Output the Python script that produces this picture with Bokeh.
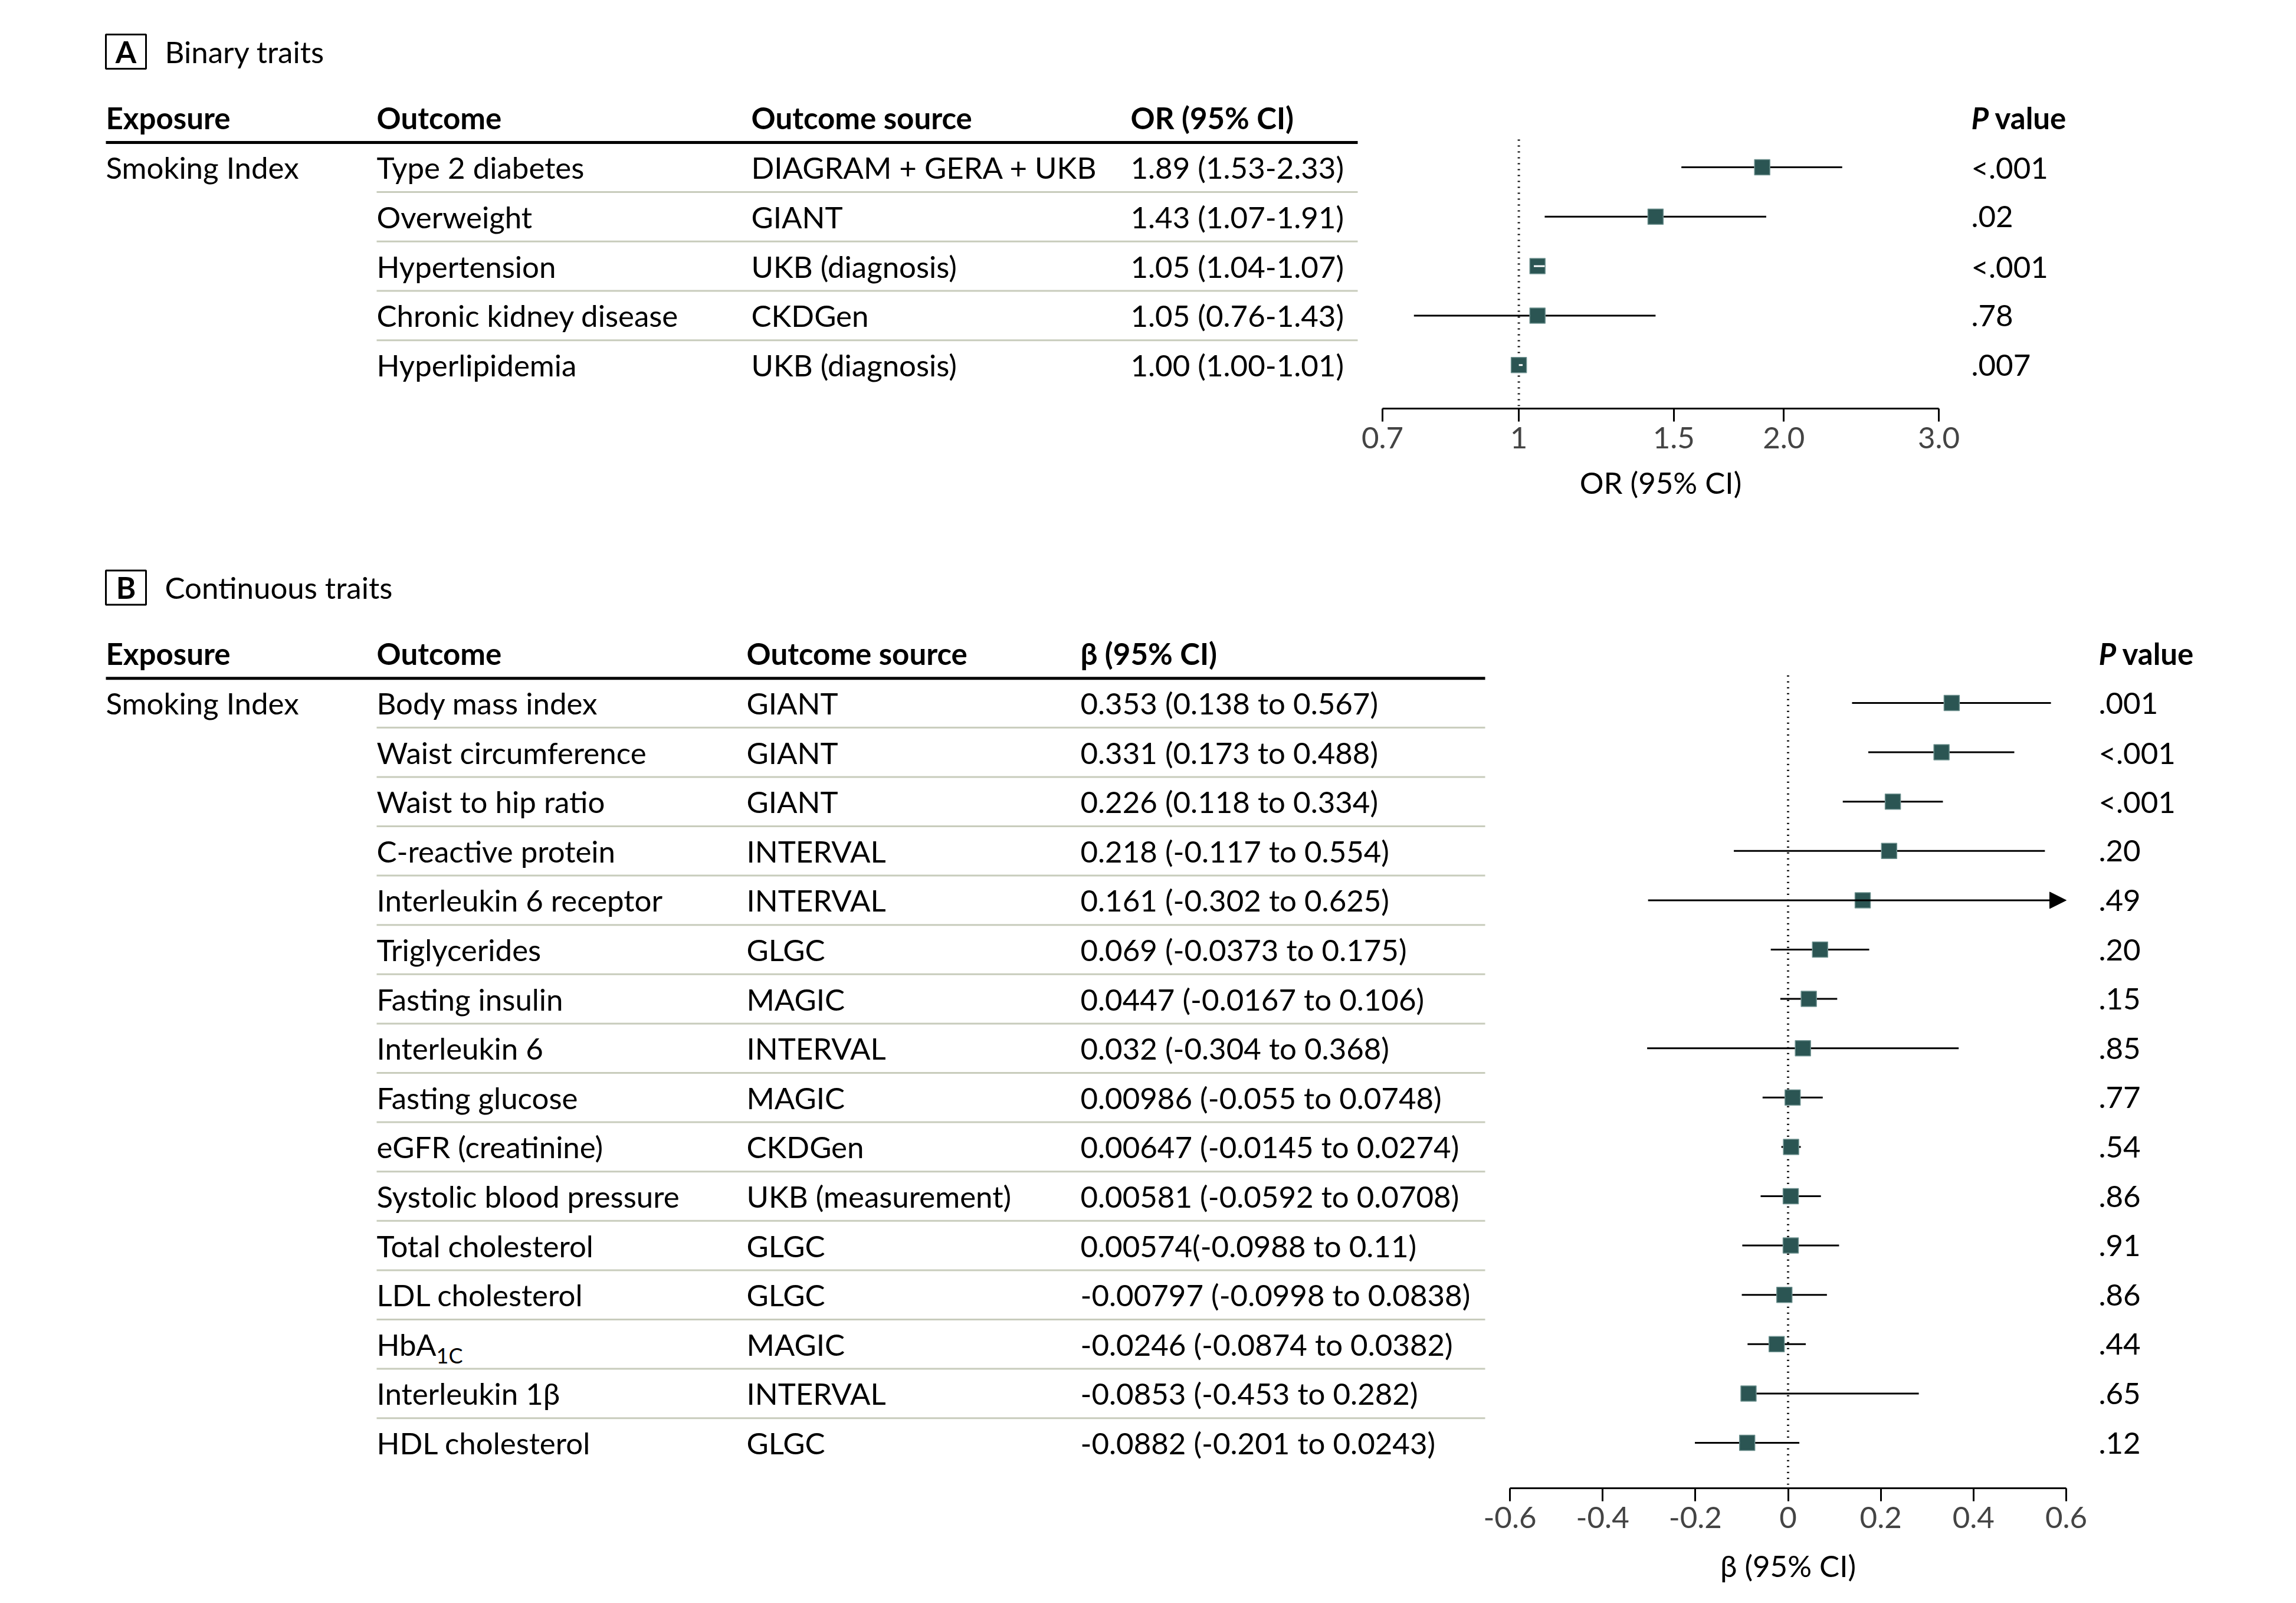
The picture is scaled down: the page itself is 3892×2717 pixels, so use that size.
import math
from bokeh.plotting import figure
from bokeh.models import (Range1d, LogScale, LinearScale, LogAxis, LinearAxis,
                          FixedTicker, CustomJSTickFormatter, ColumnDataSource,
                          Arrow, NormalHead)
from bokeh.layouts import column
from bokeh.embed import file_html
from bokeh.resources import INLINE
from bokeh.core.properties import value

# ---------------- data ----------------
exposure = "Smoking Index"

a_outcomes = ["Type 2 diabetes", "Overweight", "Hypertension",
              "Chronic kidney disease", "Hyperlipidemia"]
a_sources = ["DIAGRAM + GERA + UKB", "GIANT", "UKB (diagnosis)", "CKDGen",
             "UKB (diagnosis)"]
a_est = [1.89, 1.43, 1.05, 1.05, 1.00]
a_lo = [1.53, 1.07, 1.04, 0.76, 1.00]
a_hi = [2.33, 1.91, 1.07, 1.43, 1.01]
a_ci_text = ["1.89 (1.53-2.33)", "1.43 (1.07-1.91)", "1.05 (1.04-1.07)",
             "1.05 (0.76-1.43)", "1.00 (1.00-1.01)"]
a_p = ["<.001", ".02", "<.001", ".78", ".007"]
a_ticks = [0.7, 1.0, 1.5, 2.0, 3.0]
a_tick_labels = ["0.7", "1", "1.5", "2.0", "3.0"]
a_null = 1.0

b_outcomes = ["Body mass index", "Waist circumference", "Waist to hip ratio",
              "C-reactive protein", "Interleukin 6 receptor", "Triglycerides",
              "Fasting insulin", "Interleukin 6", "Fasting glucose",
              "eGFR (creatinine)", "Systolic blood pressure",
              "Total cholesterol", "LDL cholesterol", "HbA", "Interleukin 1β",
              "HDL cholesterol"]
b_sub = {13: "1C"}
b_sources = ["GIANT", "GIANT", "GIANT", "INTERVAL", "INTERVAL", "GLGC", "MAGIC",
             "INTERVAL", "MAGIC", "CKDGen", "UKB (measurement)", "GLGC", "GLGC",
             "MAGIC", "INTERVAL", "GLGC"]
b_est = [0.353, 0.331, 0.226, 0.218, 0.161, 0.069, 0.0447, 0.032, 0.00986,
         0.00647, 0.00581, 0.00574, -0.00797, -0.0246, -0.0853, -0.0882]
# whisker ends as drawn in the figure (Interleukin 1β's drawn whisker starts
# at its marker)
b_lo = [0.138, 0.173, 0.118, -0.117, -0.302, -0.0373, -0.0167, -0.304, -0.055,
        -0.0145, -0.0592, -0.0988, -0.0998, -0.0874, -0.0853, -0.201]
b_hi = [0.567, 0.488, 0.334, 0.554, 0.625, 0.175, 0.106, 0.368, 0.0748,
        0.0274, 0.0708, 0.11, 0.0838, 0.0382, 0.282, 0.0243]
b_ci_text = ["0.353 (0.138 to 0.567)", "0.331 (0.173 to 0.488)",
             "0.226 (0.118 to 0.334)", "0.218 (-0.117 to 0.554)",
             "0.161 (-0.302 to 0.625)", "0.069 (-0.0373 to 0.175)",
             "0.0447 (-0.0167 to 0.106)", "0.032 (-0.304 to 0.368)",
             "0.00986 (-0.055 to 0.0748)", "0.00647 (-0.0145 to 0.0274)",
             "0.00581 (-0.0592 to 0.0708)", "0.00574(-0.0988 to 0.11)",
             "-0.00797 (-0.0998 to 0.0838)", "-0.0246 (-0.0874 to 0.0382)",
             "-0.0853 (-0.453 to 0.282)", "-0.0882 (-0.201 to 0.0243)"]
b_p = [".001", "<.001", "<.001", ".20", ".49", ".20", ".15", ".85", ".77",
       ".54", ".86", ".91", ".86", ".44", ".65", ".12"]
b_ticks = [-0.6, -0.4, -0.2, 0.0, 0.2, 0.4, 0.6]
b_tick_labels = ["-0.6", "-0.4", "-0.2", "0", "0.2", "0.4", "0.6"]
b_null = 0.0

# ---------------- style / layout ----------------
FONT = "Lato"
FS = "51px"
SUB_FS = "36px"
SQ = 26
SQ_FILL = "#2b5553"
SQ_LINE = "#6f9290"
SEP = "#c8ccbc"
W = 3876
BORDER = 96            # room under each forest axis for ticks + tick labels
COL_EXP, COL_OUT = 179, 638


def tick_fmt(vals, labels):
    return CustomJSTickFormatter(args=dict(vals=vals, labels=labels), code="""
        for (let i = 0; i < vals.length; i++) {
            if (Math.abs(vals[i] - tick) < 1e-6) { return labels[i]; }
        }
        return "";
    """)


def txt(p, x, y, t, style="normal", align="left", size=FS, baseline="middle"):
    p.text(x=x, y=y, text=t, text_font=value(FONT), text_font_size=size,
           text_font_style=style, text_align=align, text_baseline=baseline,
           text_color="black")


def base_fig(height, y_range, bottom):
    p = figure(width=W, height=height, output_backend="svg",
               toolbar_location=None, x_axis_type=None, y_axis_type=None,
               x_range=Range1d(0, W), y_range=y_range,
               min_border_left=0, min_border_right=0, min_border_top=0,
               min_border_bottom=bottom, outline_line_color=None)
    p.xgrid.visible = False
    p.ygrid.visible = False
    return p


def panel(letter, title, outcomes, sources, est, lo, hi, ci_text, pvals,
          ci_header, cols, rule_end, p_x, page_top, row0, step, axis_y,
          log, ax_px, ticks, tick_labels, null, dot_end, subs=None):
    n = len(outcomes)
    fh = axis_y - page_top
    p = base_fig(fh + BORDER,
                 Range1d((axis_y - row0) / step, (page_top - row0) / step),
                 BORDER)

    # extra x range for the forest part
    (v0, px0), (v1, px1) = ax_px
    if log:
        f = lambda v: math.log10(v)
        k = (px1 - px0) / (f(v1) - f(v0))
        start = 10 ** (f(v0) - px0 / k)
        end = 10 ** (f(v0) + (W - px0) / k)
        p.extra_x_ranges = {"fx": Range1d(start, end)}
        p.extra_x_scales = {"fx": LogScale()}
        ax = LogAxis(x_range_name="fx")
        width_px = lambda a, b: (f(b) - f(a)) * k
    else:
        k = (px1 - px0) / (v1 - v0)
        start = v0 - px0 / k
        end = v0 + (W - px0) / k
        p.extra_x_ranges = {"fx": Range1d(start, end)}
        p.extra_x_scales = {"fx": LinearScale()}
        ax = LinearAxis(x_range_name="fx")
        width_px = lambda a, b: (b - a) * k

    ax.bounds = (ticks[0], ticks[-1])
    ax.ticker = FixedTicker(ticks=ticks, minor_ticks=[])
    ax.formatter = tick_fmt(ticks, tick_labels)
    ax.axis_line_width = 3
    ax.axis_line_color = "black"
    ax.major_tick_line_width = 3
    ax.major_tick_out = 22
    ax.major_tick_in = 0
    ax.minor_tick_line_color = None
    ax.major_label_text_font = FONT
    ax.major_label_text_font_size = FS
    ax.major_label_standoff = 9
    p.add_layout(ax, "below")

    rows = list(range(n))

    # title with boxed letter
    ty = -2.34
    p.rect(x=[213], y=[ty], width=68, height=58, width_units="screen",
           height_units="screen", fill_color="white", line_color="black",
           line_width=3)
    txt(p, [213], [ty], [letter], style="bold", align="center")
    txt(p, [279], [ty], [title])

    # headers
    hdr = ["Exposure", "Outcome", "Outcome source", ci_header]
    txt(p, cols, [-1] * 4, hdr, style="bold")
    txt(p, [p_x], [-1], ["P"], style="bold italic")
    txt(p, [p_x + 40], [-1], ["value"], style="bold")

    # rules
    p.segment(x0=[COL_EXP], y0=[-0.5], x1=[rule_end], y1=[-0.5],
              line_color="black", line_width=5)
    seps = [i + 0.5 for i in range(n - 1)]
    p.segment(x0=[COL_OUT] * len(seps), y0=seps, x1=[rule_end] * len(seps),
              y1=seps, line_color=SEP, line_width=3)

    # table text
    txt(p, [cols[0]], [0], [exposure])
    txt(p, [cols[1]] * n, rows, outcomes)
    txt(p, [cols[2]] * n, rows, sources)
    txt(p, [cols[3]] * n, rows, ci_text)
    txt(p, [p_x] * n, rows, pvals)
    if subs:
        for i, s in subs.items():
            txt(p, [cols[1] + 101], [i + 0.22], [s], size=SUB_FS)

    # null line
    p.segment(x0=[null], y0=[-0.56], x1=[null], y1=[dot_end],
              line_color="black", line_width=4, line_dash="2 8",
              x_range_name="fx")

    # CIs
    amax = ticks[-1]
    seg = [i for i in rows if hi[i] <= amax]
    arr = [i for i in rows if hi[i] > amax]
    p.segment(x0=[lo[i] for i in seg], y0=seg, x1=[hi[i] for i in seg],
              y1=seg, line_color="black", line_width=3, x_range_name="fx")
    if arr:
        src = ColumnDataSource(dict(x0=[lo[i] for i in arr], y=arr,
                                    x1=[amax] * len(arr)))
        p.add_layout(Arrow(end=NormalHead(size=28, fill_color="black",
                                          line_color="black"),
                           x_start="x0", y_start="y", x_end="x1", y_end="y",
                           source=src, line_width=3, x_range_name="fx"))
    # squares
    p.scatter(x=est, y=rows, marker="square", size=SQ, fill_color=SQ_FILL,
              line_color=SQ_LINE, line_width=1.5, x_range_name="fx")
    # CIs narrower than the square are shown in white on it
    inner = [i for i in rows if abs(width_px(lo[i], hi[i])) < SQ - 2]
    if inner:
        p.segment(x0=[lo[i] for i in inner], y0=inner,
                  x1=[hi[i] for i in inner], y1=inner, line_color="white",
                  line_width=3, x_range_name="fx")
    return p


A_AX = ((0.7, 2343), (3.0, 3286))
B_AX = ((-0.6, 2559), (0.6, 3502))

pA = panel("A", "Binary traits", a_outcomes, a_sources, a_est, a_lo, a_hi,
           a_ci_text, a_p, "OR (95% CI)", [179, 638, 1273, 1916], 2301, 3341,
           page_top=0, row0=283, step=83.8, axis_y=692, log=True,
           ax_px=A_AX, ticks=a_ticks, tick_labels=a_tick_labels,
           null=a_null, dot_end=4.83)
B_TOP = 692 + BORDER
pB = panel("B", "Continuous traits", b_outcomes, b_sources, b_est, b_lo, b_hi,
           b_ci_text, b_p, "β (95% CI)", [179, 638, 1265, 1831], 2517, 3557,
           page_top=B_TOP, row0=1191, step=83.6, axis_y=2522, log=False,
           ax_px=B_AX, ticks=b_ticks, tick_labels=b_tick_labels,
           null=b_null, dot_end=15.85, subs=b_sub)

# axis titles, centred under each axis (A's sits in the band above panel B)
txt(pB, [(A_AX[0][1] + A_AX[1][1]) / 2], [(817 - 1191) / 83.6],
    ["OR (95% CI)"], align="center")

C_TOP = 2522 + BORDER
C_H = 92
pC = base_fig(C_H, Range1d(C_TOP + C_H, C_TOP), 0)
txt(pC, [(B_AX[0][1] + B_AX[1][1]) / 2], [C_TOP + 4], ["β (95% CI)"],
    align="center", baseline="top")

layout = column(pA, pB, pC, spacing=0)
open("out.html", "w").write(file_html(layout, INLINE))
